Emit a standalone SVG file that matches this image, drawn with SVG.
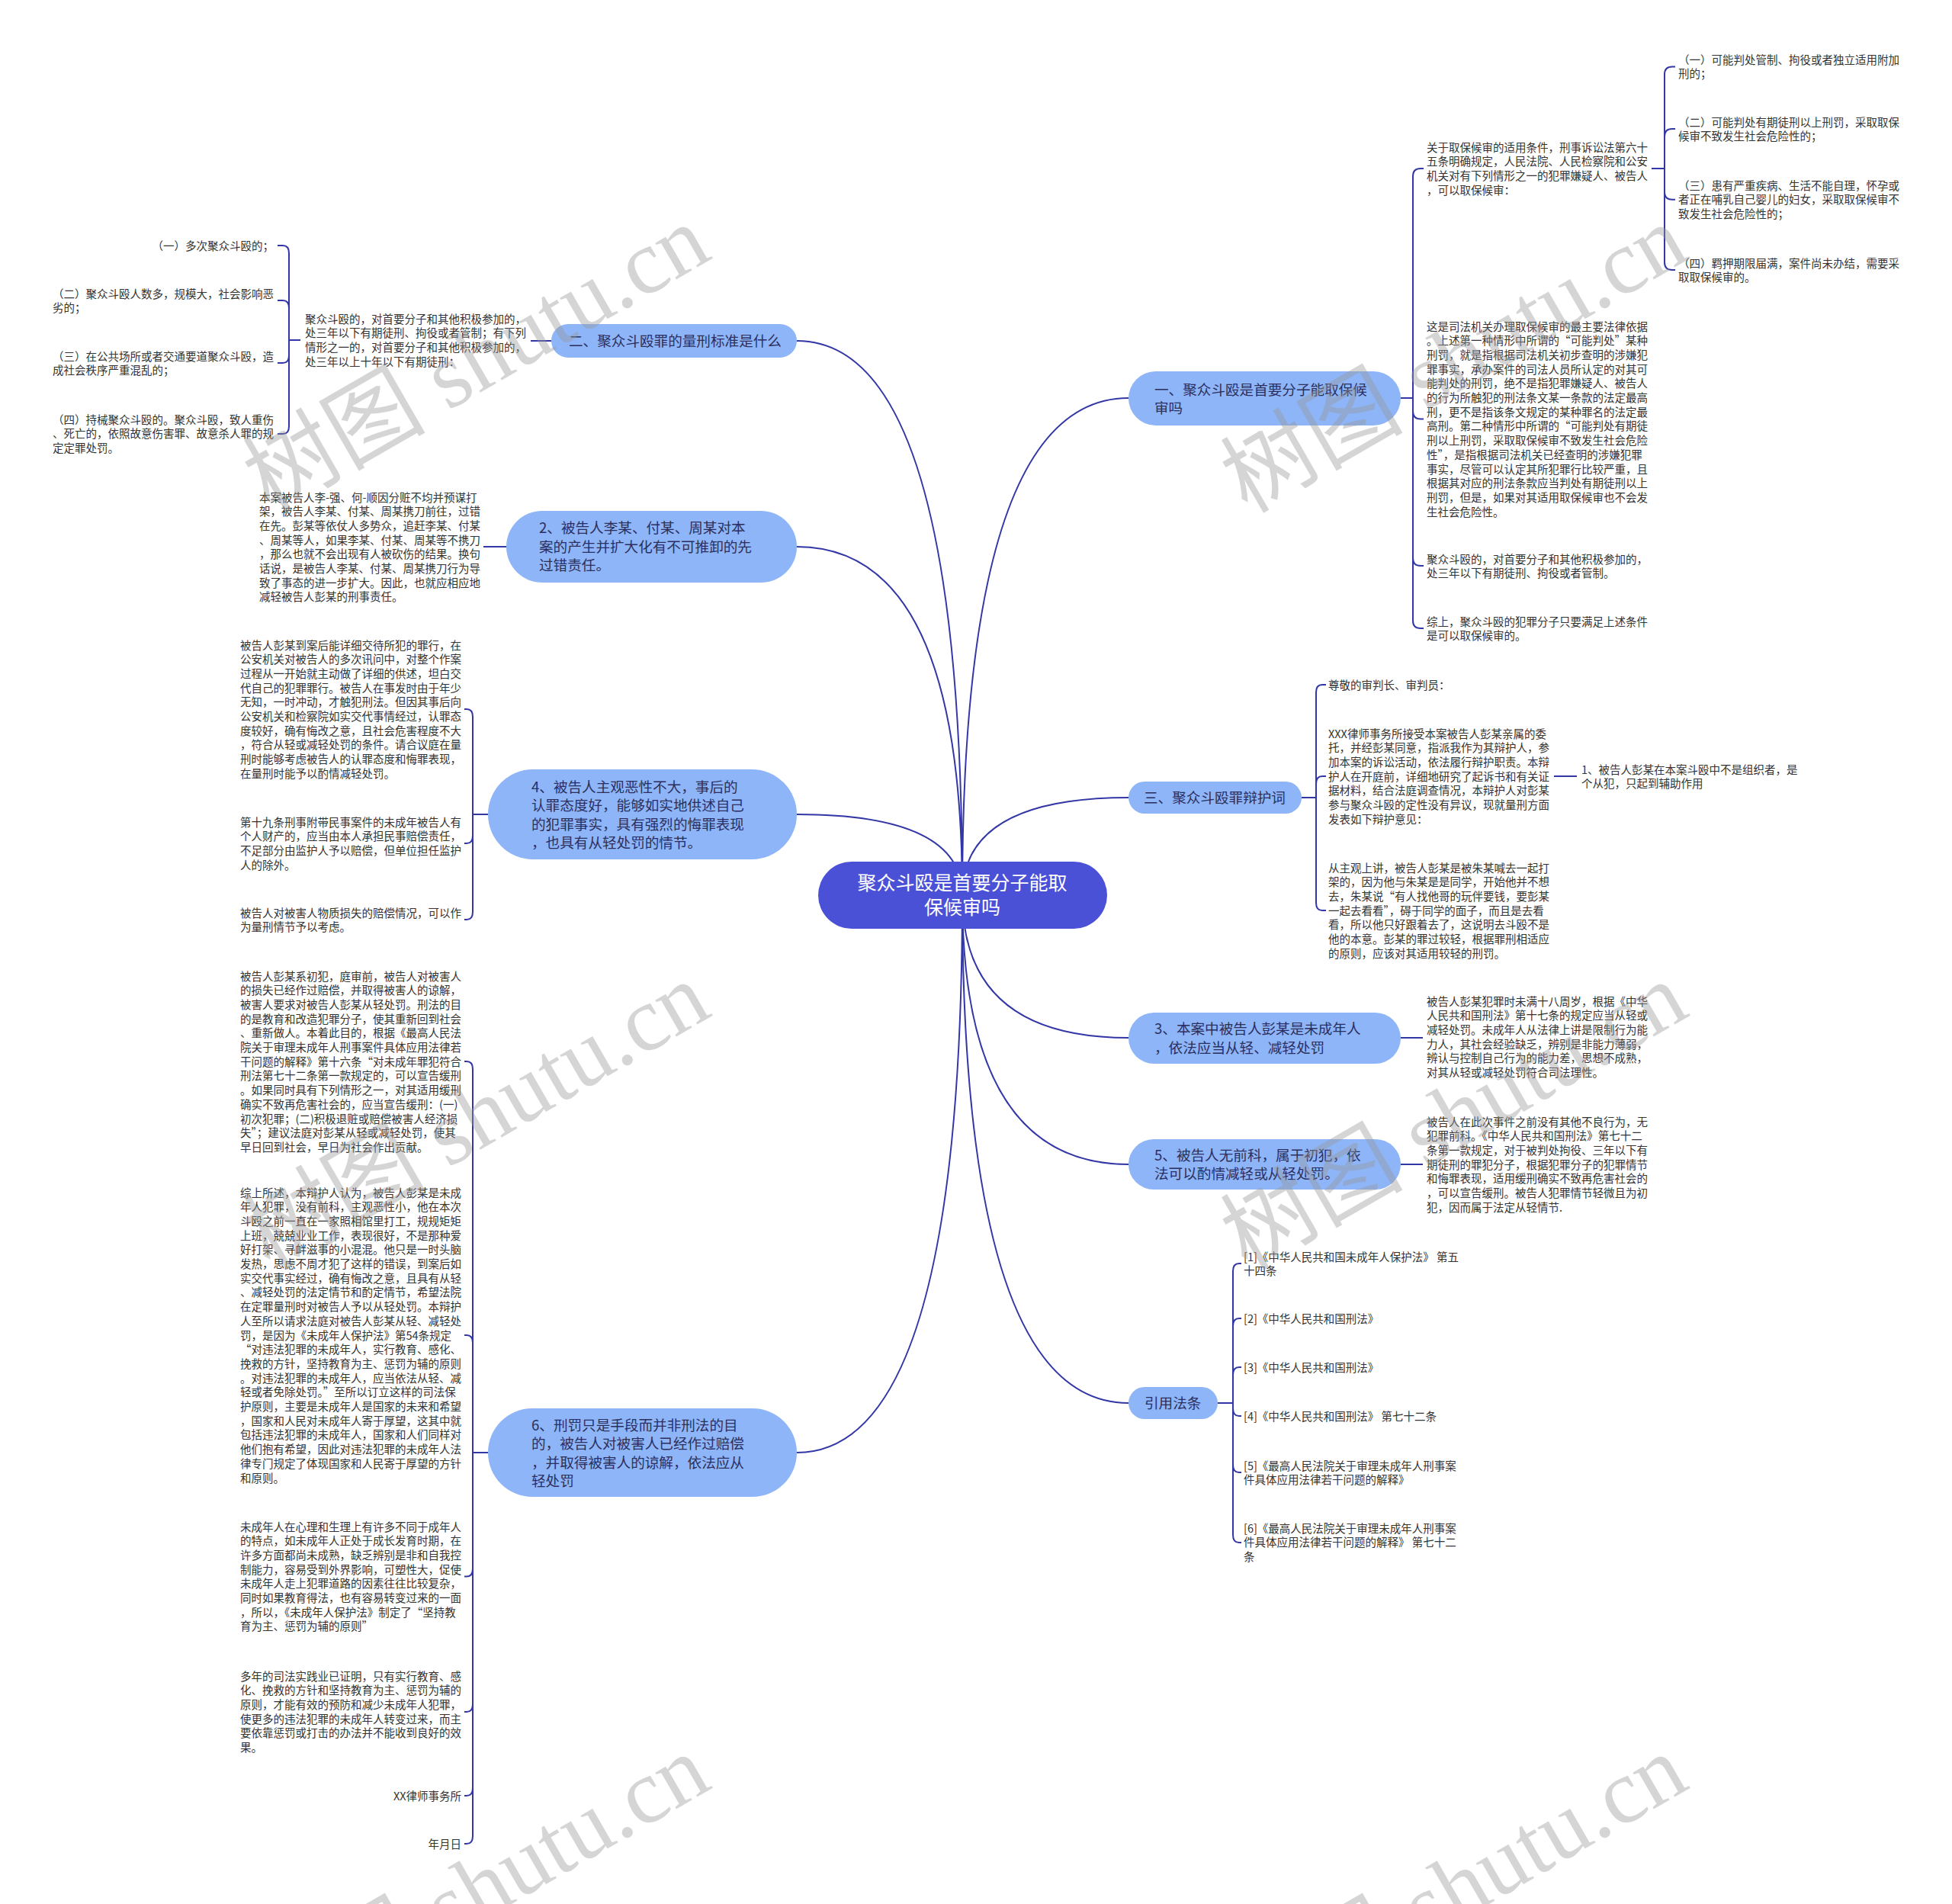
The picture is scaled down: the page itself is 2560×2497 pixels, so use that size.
<svg xmlns="http://www.w3.org/2000/svg" width="2560" height="2497" viewBox="0 0 2560 2497">
<style>
text{font-family:"Noto Sans CJK SC","Noto Sans",sans-serif;}
.t{font-size:14.5px;fill:#333;}
.n{font-size:18.6px;fill:#2c2f5e;}
.nb{fill:#8db5f7;}
.c{font-size:25px;fill:#fff;}
.ln{fill:none;stroke:#3337a6;stroke-width:2;}
.wm{font-family:"Liberation Serif","Noto Sans CJK SC",serif;font-size:120px;fill:#999;opacity:.4;}
</style>
<rect width="2560" height="2497" fill="#fff"/>
<g id="connectors" class="ln">
<path d="M1262 1174 Q1262 522 1480 522"/>
<path d="M1262 1174 Q1262 1046 1480 1046"/>
<path d="M1262 1174 Q1262 1361 1480 1361"/>
<path d="M1262 1174 Q1262 1527 1480 1527"/>
<path d="M1262 1174 Q1262 1840 1480 1840"/>
<path d="M1262 1174 Q1262 447 1045 447"/>
<path d="M1262 1174 Q1262 717 1045 717"/>
<path d="M1262 1174 Q1262 1068 1045 1068"/>
<path d="M1262 1174 Q1262 1905 1045 1905"/>
<path d="M1837 522 H1853"/>
<path d="M1853 522 V231 Q1853 221 1863 221 H1867"/>
<path d="M1853 522 V539.5 Q1853 549.5 1863 549.5 H1867"/>
<path d="M1853 522 V732 Q1853 742 1863 742 H1867"/>
<path d="M1853 522 V814 Q1853 824 1863 824 H1867"/>
<path d="M2166 221 H2183"/>
<path d="M2183 221 V97.4 Q2183 87.4 2193 87.4 H2197"/>
<path d="M2183 221 V179 Q2183 169 2193 169 H2197"/>
<path d="M2183 221 V251.7 Q2183 261.7 2193 261.7 H2197"/>
<path d="M2183 221 V344 Q2183 354 2193 354 H2197"/>
<path d="M1707 1046 H1726"/>
<path d="M1726 1046 V908 Q1726 898 1734 898 H1739"/>
<path d="M1726 1046 V1028 Q1726 1018 1734 1018 H1739"/>
<path d="M1726 1046 V1184 Q1726 1194 1734 1194 H1739"/>
<path d="M2038 1018 H2068"/>
<path d="M1837 1361 H1866"/>
<path d="M1837 1527 H1866"/>
<path d="M1597 1840 H1617"/>
<path d="M1617 1840 V1667 Q1617 1657 1625 1657 H1628"/>
<path d="M1617 1840 V1739 Q1617 1729 1625 1729 H1628"/>
<path d="M1617 1840 V1803 Q1617 1793 1625 1793 H1628"/>
<path d="M1617 1840 V1847 Q1617 1857 1625 1857 H1628"/>
<path d="M1617 1840 V1921 Q1617 1931 1625 1931 H1628"/>
<path d="M1617 1840 V2013 Q1617 2023 1625 2023 H1628"/>
<path d="M696 447 H723"/>
<path d="M394 446 H379"/>
<path d="M379 446 V332 Q379 322 371 322 H364"/>
<path d="M379 446 V404 Q379 394 371 394 H364"/>
<path d="M379 446 V466 Q379 476 371 476 H364"/>
<path d="M379 446 V559 Q379 569 371 569 H364"/>
<path d="M634 717 H664"/>
<path d="M640 1068 H620"/>
<path d="M620 1068 V940 Q620 930 612 930 H609"/>
<path d="M620 1068 V1096 Q620 1106 612 1106 H609"/>
<path d="M620 1068 V1196 Q620 1206 612 1206 H609"/>
<path d="M640 1905 H620"/>
<path d="M620 1905 V1402 Q620 1392 612 1392 H609"/>
<path d="M620 1905 V1761 Q620 1751 612 1751 H609"/>
<path d="M620 1905 V2057.5 Q620 2067.5 612 2067.5 H609"/>
<path d="M620 1905 V2235 Q620 2245 612 2245 H609"/>
<path d="M620 1905 V2345 Q620 2355 612 2355 H609"/>
<path d="M620 1905 V2408 Q620 2418 612 2418 H609"/>
</g>
<g id="root">
<rect x="1073" y="1130" width="379" height="88" rx="44" fill="#4b51d6"/>
<text class="c" text-anchor="middle"><tspan x="1262" y="1167">聚众斗殴是首要分子能取</tspan><tspan x="1262" y="1199">保候审吗</tspan></text>
</g>
<g id="n1">
<rect class="nb" x="1480" y="487" width="357" height="71" rx="35.5"/>
<text class="n"><tspan x="1514" y="518">一、聚众斗殴是首要分子能取保候</tspan><tspan x="1514" y="542">审吗</tspan></text>
</g>
<g id="n1a"><text class="t" x="1871" y="198.5"><tspan x="1871">关于取保候审的适用条件，刑事诉讼法第六十</tspan><tspan x="1871" dy="18.7">五条明确规定，人民法院、人民检察院和公安</tspan><tspan x="1871" dy="18.7">机关对有下列情形之一的犯罪嫌疑人、被告人</tspan><tspan x="1871" dy="18.7">，可以取保候审：</tspan></text></g>
<g id="n1a1"><text class="t" x="2201" y="83.5"><tspan x="2201">（一）可能判处管制、拘役或者独立适用附加</tspan><tspan x="2201" dy="18.7">刑的；</tspan></text></g>
<g id="n1a2"><text class="t" x="2201" y="165.5"><tspan x="2201">（二）可能判处有期徒刑以上刑罚，采取取保</tspan><tspan x="2201" dy="18.7">候审不致发生社会危险性的；</tspan></text></g>
<g id="n1a3"><text class="t" x="2201" y="248.5"><tspan x="2201">（三）患有严重疾病、生活不能自理，怀孕或</tspan><tspan x="2201" dy="18.7">者正在哺乳自己婴儿的妇女，采取取保候审不</tspan><tspan x="2201" dy="18.7">致发生社会危险性的；</tspan></text></g>
<g id="n1a4"><text class="t" x="2201" y="350.5"><tspan x="2201">（四）羁押期限届满，案件尚未办结，需要采</tspan><tspan x="2201" dy="18.7">取取保候审的。</tspan></text></g>
<g id="n1b"><text class="t" x="1871" y="433.5"><tspan x="1871">这是司法机关办理取保候审的最主要法律依据</tspan><tspan x="1871" dy="18.7">。上述第一种情形中所谓的“可能判处”某种</tspan><tspan x="1871" dy="18.7">刑罚，就是指根据司法机关初步查明的涉嫌犯</tspan><tspan x="1871" dy="18.7">罪事实，承办案件的司法人员所认定的对其可</tspan><tspan x="1871" dy="18.7">能判处的刑罚，绝不是指犯罪嫌疑人、被告人</tspan><tspan x="1871" dy="18.7">的行为所触犯的刑法条文某一条款的法定最高</tspan><tspan x="1871" dy="18.7">刑，更不是指该条文规定的某种罪名的法定最</tspan><tspan x="1871" dy="18.7">高刑。第二种情形中所谓的“可能判处有期徒</tspan><tspan x="1871" dy="18.7">刑以上刑罚，采取取保候审不致发生社会危险</tspan><tspan x="1871" dy="18.7">性”，是指根据司法机关已经查明的涉嫌犯罪</tspan><tspan x="1871" dy="18.7">事实，尽管可以认定其所犯罪行比较严重，且</tspan><tspan x="1871" dy="18.7">根据其对应的刑法条款应当判处有期徒刑以上</tspan><tspan x="1871" dy="18.7">刑罚，但是，如果对其适用取保候审也不会发</tspan><tspan x="1871" dy="18.7">生社会危险性。</tspan></text></g>
<g id="n1c"><text class="t" x="1871" y="738.5"><tspan x="1871">聚众斗殴的，对首要分子和其他积极参加的，</tspan><tspan x="1871" dy="18.7">处三年以下有期徒刑、拘役或者管制。</tspan></text></g>
<g id="n1d"><text class="t" x="1871" y="820.5"><tspan x="1871">综上，聚众斗殴的犯罪分子只要满足上述条件</tspan><tspan x="1871" dy="18.7">是可以取保候审的。</tspan></text></g>
<g id="n3">
<rect class="nb" x="1480" y="1025" width="227" height="42" rx="21"/>
<text class="n" x="1500" y="1053">三、聚众斗殴罪辩护词</text>
</g>
<g id="n3a"><text class="t" x="1742" y="903.5">尊敬的审判长、审判员：</text></g>
<g id="n3b"><text class="t" x="1742" y="967.5"><tspan x="1742">XXX律师事务所接受本案被告人彭某亲属的委</tspan><tspan x="1742" dy="18.7">托，并经彭某同意，指派我作为其辩护人，参</tspan><tspan x="1742" dy="18.7">加本案的诉讼活动，依法履行辩护职责。本辩</tspan><tspan x="1742" dy="18.7">护人在开庭前，详细地研究了起诉书和有关证</tspan><tspan x="1742" dy="18.7">据材料，结合法庭调查情况，本辩护人对彭某</tspan><tspan x="1742" dy="18.7">参与聚众斗殴的定性没有异议，现就量刑方面</tspan><tspan x="1742" dy="18.7">发表如下辩护意见：</tspan></text></g>
<g id="n3b1"><text class="t" x="2074" y="1014.5"><tspan x="2074">1、被告人彭某在本案斗殴中不是组织者，是</tspan><tspan x="2074" dy="18.7">个从犯，只起到辅助作用</tspan></text></g>
<g id="n3c"><text class="t" x="1742" y="1143.5"><tspan x="1742">从主观上讲，被告人彭某是被朱某喊去一起打</tspan><tspan x="1742" dy="18.7">架的，因为他与朱某是是同学，开始他并不想</tspan><tspan x="1742" dy="18.7">去，朱某说“有人找他哥的玩伴要钱，要彭某</tspan><tspan x="1742" dy="18.7">一起去看看”，碍于同学的面子，而且是去看</tspan><tspan x="1742" dy="18.7">看，所以他只好跟着去了，这说明去斗殴不是</tspan><tspan x="1742" dy="18.7">他的本意。彭某的罪过较轻，根据罪刑相适应</tspan><tspan x="1742" dy="18.7">的原则，应该对其适用较轻的刑罚。</tspan></text></g>
<g id="nb3">
<rect class="nb" x="1480" y="1328" width="357" height="67" rx="33.5"/>
<text class="n"><tspan x="1514" y="1356">3、本案中被告人彭某是未成年人</tspan><tspan x="1514" y="1380.5">，依法应当从轻、减轻处罚</tspan></text>
</g>
<g id="nb3a"><text class="t" x="1871" y="1318.5"><tspan x="1871">被告人彭某犯罪时未满十八周岁，根据《中华</tspan><tspan x="1871" dy="18.7">人民共和国刑法》第十七条的规定应当从轻或</tspan><tspan x="1871" dy="18.7">减轻处罚。未成年人从法律上讲是限制行为能</tspan><tspan x="1871" dy="18.7">力人，其社会经验缺乏，辨别是非能力薄弱，</tspan><tspan x="1871" dy="18.7">辨认与控制自己行为的能力差，思想不成熟，</tspan><tspan x="1871" dy="18.7">对其从轻或减轻处罚符合司法理性。</tspan></text></g>
<g id="nb5">
<rect class="nb" x="1480" y="1494" width="357" height="66" rx="33"/>
<text class="n"><tspan x="1514" y="1522">5、被告人无前科，属于初犯，依</tspan><tspan x="1514" y="1546">法可以酌情减轻或从轻处罚。</tspan></text>
</g>
<g id="nb5a"><text class="t" x="1871" y="1476.5"><tspan x="1871">被告人在此次事件之前没有其他不良行为，无</tspan><tspan x="1871" dy="18.7">犯罪前科。《中华人民共和国刑法》第七十二</tspan><tspan x="1871" dy="18.7">条第一款规定，对于被判处拘役、三年以下有</tspan><tspan x="1871" dy="18.7">期徒刑的罪犯分子，根据犯罪分子的犯罪情节</tspan><tspan x="1871" dy="18.7">和悔罪表现，适用缓刑确实不致再危害社会的</tspan><tspan x="1871" dy="18.7">，可以宣告缓刑。被告人犯罪情节轻微且为初</tspan><tspan x="1871" dy="18.7">犯，因而属于法定从轻情节.</tspan></text></g>
<g id="nref">
<rect class="nb" x="1480" y="1819" width="117" height="42" rx="21"/>
<text class="n" x="1501" y="1847">引用法条</text>
</g>
<g id="ref1"><text class="t" x="1631" y="1653.5"><tspan x="1631">[1]《中华人民共和国未成年人保护法》 第五</tspan><tspan x="1631" dy="18.7">十四条</tspan></text></g>
<g id="ref2"><text class="t" x="1631" y="1734.5">[2]《中华人民共和国刑法》</text></g>
<g id="ref3"><text class="t" x="1631" y="1798.5">[3]《中华人民共和国刑法》</text></g>
<g id="ref4"><text class="t" x="1631" y="1862.5">[4]《中华人民共和国刑法》 第七十二条</text></g>
<g id="ref5"><text class="t" x="1631" y="1927.5"><tspan x="1631">[5]《最高人民法院关于审理未成年人刑事案</tspan><tspan x="1631" dy="18.7">件具体应用法律若干问题的解释》</tspan></text></g>
<g id="ref6"><text class="t" x="1631" y="2009.5"><tspan x="1631">[6]《最高人民法院关于审理未成年人刑事案</tspan><tspan x="1631" dy="18.7">件具体应用法律若干问题的解释》 第七十二</tspan><tspan x="1631" dy="18.7">条</tspan></text></g>
<g id="n2">
<rect class="nb" x="723" y="425" width="322" height="44" rx="22"/>
<text class="n" x="746" y="454">二、聚众斗殴罪的量刑标准是什么</text>
</g>
<g id="n2a"><text class="t" x="400" y="423.5"><tspan x="400">聚众斗殴的，对首要分子和其他积极参加的，</tspan><tspan x="400" dy="18.7">处三年以下有期徒刑、拘役或者管制；有下列</tspan><tspan x="400" dy="18.7">情形之一的，对首要分子和其他积极参加的，</tspan><tspan x="400" dy="18.7">处三年以上十年以下有期徒刑：</tspan></text></g>
<g id="n2a1"><text class="t" x="199.5" y="327.5">（一）多次聚众斗殴的；</text></g>
<g id="n2a2"><text class="t" x="69" y="390.5"><tspan x="69">（二）聚众斗殴人数多，规模大，社会影响恶</tspan><tspan x="69" dy="18.7">劣的；</tspan></text></g>
<g id="n2a3"><text class="t" x="69" y="472.5"><tspan x="69">（三）在公共场所或者交通要道聚众斗殴，造</tspan><tspan x="69" dy="18.7">成社会秩序严重混乱的；</tspan></text></g>
<g id="n2a4"><text class="t" x="69" y="555.5"><tspan x="69">（四）持械聚众斗殴的。聚众斗殴，致人重伤</tspan><tspan x="69" dy="18.7">、死亡的，依照故意伤害罪、故意杀人罪的规</tspan><tspan x="69" dy="18.7">定定罪处罚。</tspan></text></g>
<g id="nl2">
<rect class="nb" x="664" y="670" width="381" height="94" rx="47"/>
<text class="n"><tspan x="707" y="699">2、被告人李某、付某、周某对本</tspan><tspan x="707" y="724">案的产生并扩大化有不可推卸的先</tspan><tspan x="707" y="748">过错责任。</tspan></text>
</g>
<g id="nl2a"><text class="t" x="340" y="657.5"><tspan x="340">本案被告人李-强、何-顺因分赃不均并预谋打</tspan><tspan x="340" dy="18.7">架，被告人李某、付某、周某携刀前往，过错</tspan><tspan x="340" dy="18.7">在先。彭某等依仗人多势众，追赶李某、付某</tspan><tspan x="340" dy="18.7">、周某等人，如果李某、付某、周某等不携刀</tspan><tspan x="340" dy="18.7">，那么也就不会出现有人被砍伤的结果。换句</tspan><tspan x="340" dy="18.7">话说，是被告人李某、付某、周某携刀行为导</tspan><tspan x="340" dy="18.7">致了事态的进一步扩大。因此，也就应相应地</tspan><tspan x="340" dy="18.7">减轻被告人彭某的刑事责任。</tspan></text></g>
<g id="nl4">
<rect class="nb" x="640" y="1009" width="405" height="118" rx="59"/>
<text class="n"><tspan x="697" y="1038.5">4、被告人主观恶性不大，事后的</tspan><tspan x="697" y="1063">认罪态度好，能够如实地供述自己</tspan><tspan x="697" y="1087.5">的犯罪事实，具有强烈的悔罪表现</tspan><tspan x="697" y="1112">，也具有从轻处罚的情节。</tspan></text>
</g>
<g id="nl4a"><text class="t" x="315" y="851.5"><tspan x="315">被告人彭某到案后能详细交待所犯的罪行，在</tspan><tspan x="315" dy="18.7">公安机关对被告人的多次讯问中，对整个作案</tspan><tspan x="315" dy="18.7">过程从一开始就主动做了详细的供述，坦白交</tspan><tspan x="315" dy="18.7">代自己的犯罪罪行。被告人在事发时由于年少</tspan><tspan x="315" dy="18.7">无知，一时冲动，才触犯刑法。但因其事后向</tspan><tspan x="315" dy="18.7">公安机关和检察院如实交代事情经过，认罪态</tspan><tspan x="315" dy="18.7">度较好，确有悔改之意，且社会危害程度不大</tspan><tspan x="315" dy="18.7">，符合从轻或减轻处罚的条件。请合议庭在量</tspan><tspan x="315" dy="18.7">刑时能够考虑被告人的认罪态度和悔罪表现，</tspan><tspan x="315" dy="18.7">在量刑时能予以酌情减轻处罚。</tspan></text></g>
<g id="nl4b"><text class="t" x="315" y="1083.5"><tspan x="315">第十九条刑事附带民事案件的未成年被告人有</tspan><tspan x="315" dy="18.7">个人财产的，应当由本人承担民事赔偿责任，</tspan><tspan x="315" dy="18.7">不足部分由监护人予以赔偿，但单位担任监护</tspan><tspan x="315" dy="18.7">人的除外。</tspan></text></g>
<g id="nl4c"><text class="t" x="315" y="1202.5"><tspan x="315">被告人对被害人物质损失的赔偿情况，可以作</tspan><tspan x="315" dy="18.7">为量刑情节予以考虑。</tspan></text></g>
<g id="nl6">
<rect class="nb" x="640" y="1847" width="405" height="116" rx="58"/>
<text class="n"><tspan x="697" y="1875.5">6、刑罚只是手段而并非刑法的目</tspan><tspan x="697" y="1900">的，被告人对被害人已经作过赔偿</tspan><tspan x="697" y="1924.5">，并取得被害人的谅解，依法应从</tspan><tspan x="697" y="1949">轻处罚</tspan></text>
</g>
<g id="nl6a"><text class="t" x="315" y="1285.5"><tspan x="315">被告人彭某系初犯，庭审前，被告人对被害人</tspan><tspan x="315" dy="18.7">的损失已经作过赔偿，并取得被害人的谅解，</tspan><tspan x="315" dy="18.7">被害人要求对被告人彭某从轻处罚。刑法的目</tspan><tspan x="315" dy="18.7">的是教育和改造犯罪分子，使其重新回到社会</tspan><tspan x="315" dy="18.7">、重新做人。本着此目的，根据《最高人民法</tspan><tspan x="315" dy="18.7">院关于审理未成年人刑事案件具体应用法律若</tspan><tspan x="315" dy="18.7">干问题的解释》第十六条“对未成年罪犯符合</tspan><tspan x="315" dy="18.7">刑法第七十二条第一款规定的，可以宣告缓刑</tspan><tspan x="315" dy="18.7">。如果同时具有下列情形之一，对其适用缓刑</tspan><tspan x="315" dy="18.7">确实不致再危害社会的，应当宣告缓刑：(一)</tspan><tspan x="315" dy="18.7">初次犯罪；(二)积极退赃或赔偿被害人经济损</tspan><tspan x="315" dy="18.7">失”；建议法庭对彭某从轻或减轻处罚，使其</tspan><tspan x="315" dy="18.7">早日回到社会，早日为社会作出贡献。</tspan></text></g>
<g id="nl6b"><text class="t" x="315" y="1569.5"><tspan x="315">综上所述，本辩护人认为，被告人彭某是未成</tspan><tspan x="315" dy="18.7">年人犯罪，没有前科，主观恶性小，他在本次</tspan><tspan x="315" dy="18.7">斗殴之前一直在一家照相馆里打工，规规矩矩</tspan><tspan x="315" dy="18.7">上班，兢兢业业工作，表现很好，不是那种爱</tspan><tspan x="315" dy="18.7">好打架、寻衅滋事的小混混。他只是一时头脑</tspan><tspan x="315" dy="18.7">发热，思虑不周才犯了这样的错误，到案后如</tspan><tspan x="315" dy="18.7">实交代事实经过，确有悔改之意，且具有从轻</tspan><tspan x="315" dy="18.7">、减轻处罚的法定情节和酌定情节，希望法院</tspan><tspan x="315" dy="18.7">在定罪量刑时对被告人予以从轻处罚。本辩护</tspan><tspan x="315" dy="18.7">人至所以请求法庭对被告人彭某从轻、减轻处</tspan><tspan x="315" dy="18.7">罚，是因为《未成年人保护法》第54条规定</tspan><tspan x="315" dy="18.7">“对违法犯罪的未成年人，实行教育、感化、</tspan><tspan x="315" dy="18.7">挽救的方针，坚持教育为主、惩罚为辅的原则</tspan><tspan x="315" dy="18.7">。对违法犯罪的未成年人，应当依法从轻、减</tspan><tspan x="315" dy="18.7">轻或者免除处罚。”至所以订立这样的司法保</tspan><tspan x="315" dy="18.7">护原则，主要是未成年人是国家的未来和希望</tspan><tspan x="315" dy="18.7">，国家和人民对未成年人寄于厚望，这其中就</tspan><tspan x="315" dy="18.7">包括违法犯罪的未成年人，国家和人们同样对</tspan><tspan x="315" dy="18.7">他们抱有希望，因此对违法犯罪的未成年人法</tspan><tspan x="315" dy="18.7">律专门规定了体现国家和人民寄于厚望的方针</tspan><tspan x="315" dy="18.7">和原则。</tspan></text></g>
<g id="nl6c"><text class="t" x="315" y="2007.5"><tspan x="315">未成年人在心理和生理上有许多不同于成年人</tspan><tspan x="315" dy="18.7">的特点，如未成年人正处于成长发育时期，在</tspan><tspan x="315" dy="18.7">许多方面都尚未成熟，缺乏辨别是非和自我控</tspan><tspan x="315" dy="18.7">制能力，容易受到外界影响，可塑性大，促使</tspan><tspan x="315" dy="18.7">未成年人走上犯罪道路的因素往往比较复杂，</tspan><tspan x="315" dy="18.7">同时如果教育得法，也有容易转变过来的一面</tspan><tspan x="315" dy="18.7">，所以，《未成年人保护法》制定了“坚持教</tspan><tspan x="315" dy="18.7">育为主、惩罚为辅的原则”</tspan></text></g>
<g id="nl6d"><text class="t" x="315" y="2203.5"><tspan x="315">多年的司法实践业已证明，只有实行教育、感</tspan><tspan x="315" dy="18.7">化、挽救的方针和坚持教育为主、惩罚为辅的</tspan><tspan x="315" dy="18.7">原则，才能有效的预防和减少未成年人犯罪，</tspan><tspan x="315" dy="18.7">使更多的违法犯罪的未成年人转变过来，而主</tspan><tspan x="315" dy="18.7">要依靠惩罚或打击的办法并不能收到良好的效</tspan><tspan x="315" dy="18.7">果。</tspan></text></g>
<g id="nl6e"><text class="t" x="605" y="2360.5" text-anchor="end">XX律师事务所</text></g>
<g id="nl6f"><text class="t" x="605" y="2423.5" text-anchor="end">年月日</text></g>
<g id="watermarks">
<text class="wm" text-anchor="middle" transform="translate(645 506) rotate(-30)">树图 shutu.cn</text>
<text class="wm" text-anchor="middle" transform="translate(1927 506) rotate(-30)">树图 shutu.cn</text>
<text class="wm" text-anchor="middle" transform="translate(645 1499) rotate(-30)">树图 shutu.cn</text>
<text class="wm" text-anchor="middle" transform="translate(1927 1499) rotate(-30)">树图 shutu.cn</text>
<text class="wm" text-anchor="middle" transform="translate(645 2512) rotate(-30)">树图 shutu.cn</text>
<text class="wm" text-anchor="middle" transform="translate(1927 2512) rotate(-30)">树图 shutu.cn</text>
</g>
</svg>
